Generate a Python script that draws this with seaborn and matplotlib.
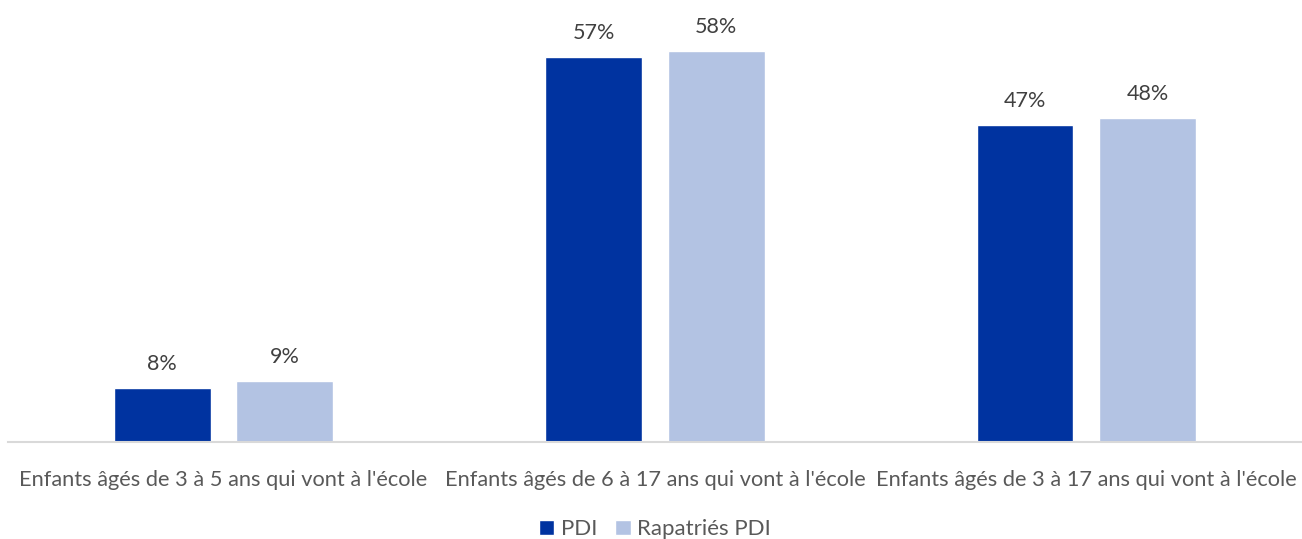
import pandas as pd
import numpy as np
import matplotlib.pyplot as plt
import seaborn as sns

categories = ["Enfants âgés de 3 à 5 ans qui vont à l'école",
              "Enfants âgés de 6 à 17 ans qui vont à l'école",
              "Enfants âgés de 3 à 17 ans qui vont à l'école"]
series = ["PDI", "Rapatriés PDI"]
pdi = [8, 57, 47]
rapatries = [9, 58, 48]

df = pd.DataFrame({
    "categorie": categories * 2,
    "groupe": [series[0]] * 3 + [series[1]] * 3,
    "valeur": pdi + rapatries,
})

sns.set_style("white")
plt.rcParams['font.family'] = ['Lato', 'DejaVu Sans']

fig = plt.figure(figsize=(13.02, 5.39), dpi=100)
ax = fig.add_axes([0.006, 0.18, 0.994, 0.82])
sns.barplot(data=df, x="categorie", y="valeur", hue="groupe",
            palette=["#0033A0", "#B3C3E3"], saturation=1, width=0.568, gap=0.21,
            ax=ax, legend=True)

# etiquettes au-dessus des barres
for bar in ax.patches:
    if bar.get_height() > 0:
        ax.annotate(f"{bar.get_height():.0f}%",
                    (bar.get_x() + bar.get_width() / 2, bar.get_height()),
                    ha='center', va='bottom', size=15.5, color="#404040",
                    xytext=(0, 10), textcoords='offset points')

ax.set_ylim(0, 65.5)
ax.set_xlim(-0.5, 2.5)
ax.set_yticks([])
ax.set_xlabel("")
ax.set_ylabel("")
for s in ["top", "left", "right"]:
    ax.spines[s].set_visible(False)
ax.spines["bottom"].set_color("#D9D9D9")
ax.spines["bottom"].set_linewidth(1.5)
ax.tick_params(axis='x', length=0, pad=20, labelsize=15.7, labelcolor="#595959")

ax.legend(loc="lower center", bbox_to_anchor=(0.5, -0.265), ncol=2, frameon=False,
          fontsize=16, handlelength=0.7, handleheight=0.7, handletextpad=0.3,
          columnspacing=0.8, labelcolor="#595959")

fig.savefig("out.png", dpi=100)
